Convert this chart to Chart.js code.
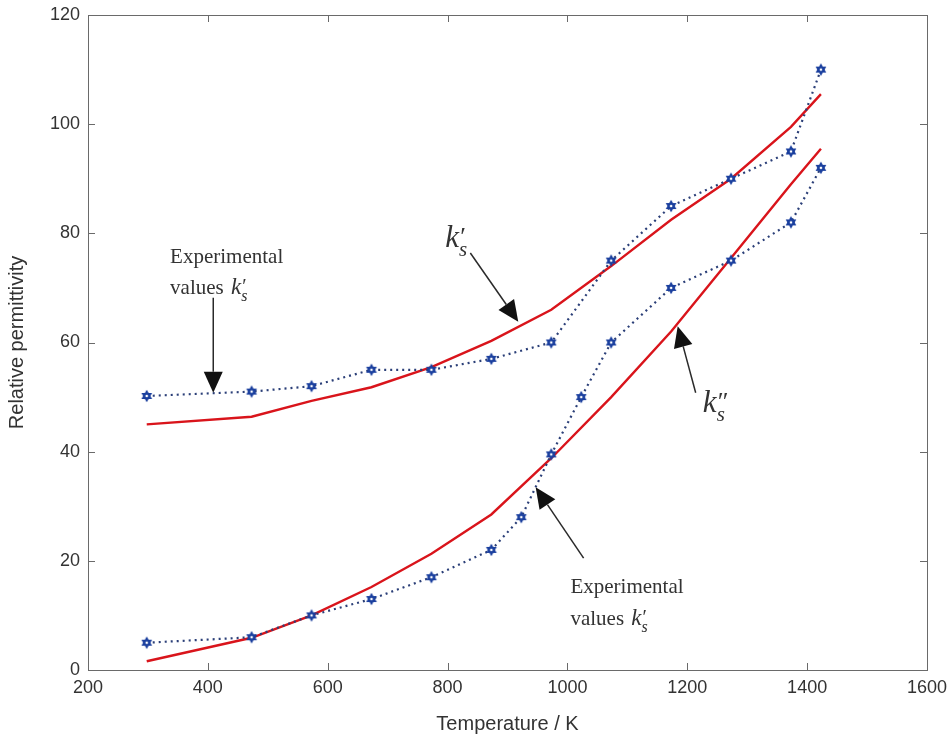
<!DOCTYPE html>
<html>
<head>
<meta charset="utf-8">
<script src="https://cdn.jsdelivr.net/npm/chart.js@4.4.0/dist/chart.umd.min.js"></script>
<style>
  html, body { margin: 0; padding: 0; background: #fff; }
  #wrap { width: 951px; height: 740px; }
</style>
</head>
<body>
<div id="wrap"><canvas id="grafico" width="951" height="740"></canvas></div>
<script>
// === Dados ===
// temperaturas (K)
const tempSuperior = [298, 473, 573, 673, 773, 873, 973, 1073, 1173, 1273, 1373, 1423];
const tempInferior = [298, 473, 573, 673, 773, 873, 923, 973, 1023, 1073, 1173, 1273, 1373, 1423];
// valores experimentais
const expKsLinha = [50.2, 51, 52, 55, 55, 57, 60, 75, 85, 90, 95, 110];
const expKsInferior = [5, 6, 10, 13, 17, 22, 28, 39.5, 50, 60, 70, 75, 82, 92];
// curvas do modelo
const modeloKsLinha = [45, 46.4, 49.3, 51.8, 55.5, 60.3, 66, 74, 82.5, 90, 99.5, 105.5];
const modeloKsDuasLinhas = [1.6, 5.9, 10, 15.2, 21.3, 28.5, 38.8, 50, 62, 75.5, 89, 95.5];
// eixos
const xTicks = [200, 400, 600, 800, 1000, 1200, 1400, 1600];
const yTicks = [0, 20, 40, 60, 80, 100, 120];

const pares = (xs, ys) => xs.map((x, i) => ({ x: x, y: ys[i] }));

// marcador hexagrama (tipo 'h' do MATLAB)
function criarHexagrama() {
  const c = document.createElement("canvas");
  c.width = 14; c.height = 14;
  const g = c.getContext("2d");
  const cx = 7, cy = 7, r = 6.2;
  g.fillStyle = "#1a3f9e";
  for (let k = 0; k < 2; k++) {
    g.beginPath();
    for (let i = 0; i < 3; i++) {
      const a = -Math.PI / 2 + k * Math.PI / 3 + i * 2 * Math.PI / 3;
      const px = cx + r * Math.cos(a), py = cy + r * Math.sin(a);
      if (i === 0) g.moveTo(px, py); else g.lineTo(px, py);
    }
    g.closePath();
    g.fill();
  }
  g.fillStyle = "#ffffff";
  g.beginPath(); g.arc(cx, cy, 1.3, 0, Math.PI * 2); g.fill();
  return c;
}
const hexagrama = criarHexagrama();

// === Anotações (em coordenadas de dados) ===
const setas = [
  { de: [409, 68.2], para: [409, 50.8] },
  { de: [838, 76.4], para: [918, 63.8] },
  { de: [1214, 50.8], para: [1184, 63.0] },
  { de: [1027, 20.5], para: [947, 33.5] }
];

function desenharSeta(ctx, x1, y1, x2, y2) {
  const ang = Math.atan2(y2 - y1, x2 - x1);
  const len = 21, half = 9.5;
  const bx = x2 - len * Math.cos(ang), by = y2 - len * Math.sin(ang);
  ctx.beginPath(); ctx.moveTo(x1, y1); ctx.lineTo(bx, by); ctx.stroke();
  ctx.beginPath();
  ctx.moveTo(x2, y2);
  ctx.lineTo(bx + half * Math.sin(ang), by - half * Math.cos(ang));
  ctx.lineTo(bx - half * Math.sin(ang), by + half * Math.cos(ang));
  ctx.closePath(); ctx.fill();
}

// desenha k com linha(s) e subscrito s
function desenharK(ctx, x, y, size, linhas) {
  ctx.font = "italic " + size + "px 'Liberation Serif'";
  ctx.textAlign = "left"; ctx.textBaseline = "alphabetic";
  ctx.fillText("k", x, y);
  const wk = ctx.measureText("k").width;
  ctx.font = "italic " + Math.round(size * 0.68) + "px 'Liberation Serif'";
  ctx.fillText("s", x + wk + size * 0.0, y + size * 0.3);
  ctx.font = Math.round(size * 0.85) + "px 'Liberation Serif'";
  ctx.fillText(linhas === 2 ? "\u2033" : "\u2032", x + wk + size * 0.04, y - size * 0.05);
}

function desenharTextoExp(ctx, chart, t, vTopo, vBase) {
  const x = chart.scales.x.getPixelForValue(t);
  const y1 = chart.scales.y.getPixelForValue(vTopo);
  const y2 = chart.scales.y.getPixelForValue(vBase);
  ctx.font = "21px 'Liberation Serif'";
  ctx.textAlign = "left"; ctx.textBaseline = "alphabetic";
  ctx.fillText("Experimental", x, y1);
  ctx.fillText("values", x, y2);
  const w = ctx.measureText("values ").width;
  desenharK(ctx, x + w + 2, y2, 23, 1);
}

const pluginMoldura = {
  id: "moldura",
  afterDraw(chart) {
    const { ctx, chartArea: a, scales } = chart;
    ctx.save();
    // caixa e ticks para dentro
    ctx.strokeStyle = "#6a6a6a";
    ctx.lineWidth = 1;
    ctx.strokeRect(a.left + 0.5, a.top + 0.5, a.right - a.left, a.bottom - a.top);
    ctx.beginPath();
    xTicks.forEach(v => {
      const px = Math.round(scales.x.getPixelForValue(v)) + 0.5;
      ctx.moveTo(px, a.bottom); ctx.lineTo(px, a.bottom - 7);
      ctx.moveTo(px, a.top); ctx.lineTo(px, a.top + 7);
    });
    yTicks.forEach(v => {
      const py = Math.round(scales.y.getPixelForValue(v)) + 0.5;
      ctx.moveTo(a.left, py); ctx.lineTo(a.left + 7, py);
      ctx.moveTo(a.right, py); ctx.lineTo(a.right - 7, py);
    });
    ctx.stroke();

    // setas
    ctx.strokeStyle = "#2a2a2a";
    ctx.fillStyle = "#111";
    ctx.lineWidth = 1.5;
    setas.forEach(s => {
      desenharSeta(ctx,
        scales.x.getPixelForValue(s.de[0]), scales.y.getPixelForValue(s.de[1]),
        scales.x.getPixelForValue(s.para[0]), scales.y.getPixelForValue(s.para[1]));
    });

    // textos
    ctx.fillStyle = "#333";
    desenharTextoExp(ctx, chart, 337, 74.6, 68.9);
    desenharTextoExp(ctx, chart, 1005, 14.1, 8.2);
    desenharK(ctx, scales.x.getPixelForValue(796), scales.y.getPixelForValue(77.5), 31, 1);
    desenharK(ctx, scales.x.getPixelForValue(1226), scales.y.getPixelForValue(47.3), 31, 2);
    ctx.restore();
  }
};

const fonteEixo = { family: "'Liberation Sans', Arial, sans-serif", size: 18 };
const fonteTitulo = { family: "'Liberation Sans', Arial, sans-serif", size: 20 };

const ctx = document.getElementById("grafico").getContext("2d");
new Chart(ctx, {
  type: "scatter",
  data: {
    datasets: [
      {
        label: "k's modelo",
        data: pares(tempSuperior, modeloKsLinha),
        showLine: true,
        borderColor: "#d9141b",
        borderWidth: 2.4,
        pointRadius: 0,
        order: 2
      },
      {
        label: "k''s modelo",
        data: pares(tempSuperior, modeloKsDuasLinhas),
        showLine: true,
        borderColor: "#d9141b",
        borderWidth: 2.4,
        pointRadius: 0,
        order: 2
      },
      {
        label: "Experimental k's",
        data: pares(tempSuperior, expKsLinha),
        showLine: true,
        borderColor: "#2b3f78",
        borderWidth: 2.2,
        borderDash: [2, 4],
        pointStyle: hexagrama,
        pointRadius: 6,
        order: 1
      },
      {
        label: "Experimental k''s",
        data: pares(tempInferior, expKsInferior),
        showLine: true,
        borderColor: "#2b3f78",
        borderWidth: 2.2,
        borderDash: [2, 4],
        pointStyle: hexagrama,
        pointRadius: 6,
        order: 1
      }
    ]
  },
  options: {
    responsive: false,
    animation: false,
    layout: { padding: { top: 15, right: 24, left: 0, bottom: 0 } },
    plugins: {
      legend: { display: false },
      tooltip: { enabled: false }
    },
    scales: {
      x: {
        type: "linear",
        min: 200, max: 1600,
        afterFit: (s) => { s.height = 70; s.paddingLeft = 0; s.paddingRight = 0; },
        afterBuildTicks: (s) => { s.ticks = xTicks.map(v => ({ value: v })); },
        grid: { display: false, drawTicks: false },
        border: { display: false },
        ticks: { color: "#333", font: fonteEixo, padding: 7, maxRotation: 0, callback: (v) => String(v) },
        title: { display: true, text: "Temperature / K", color: "#333", font: fonteTitulo, padding: { top: 0, bottom: 4 } }
      },
      y: {
        type: "linear",
        min: 0, max: 120,
        afterFit: (s) => { s.width = 88; s.paddingTop = 0; s.paddingBottom = 0; },
        afterBuildTicks: (s) => { s.ticks = yTicks.map(v => ({ value: v })); },
        grid: { display: false, drawTicks: false },
        border: { display: false },
        ticks: { color: "#333", font: fonteEixo, padding: 8, callback: (v) => String(v) },
        title: { display: true, text: "Relative permittivity", color: "#333", font: fonteTitulo, padding: { top: 5, bottom: 0 } }
      }
    }
  },
  plugins: [pluginMoldura]
});
</script>
</body>
</html>
